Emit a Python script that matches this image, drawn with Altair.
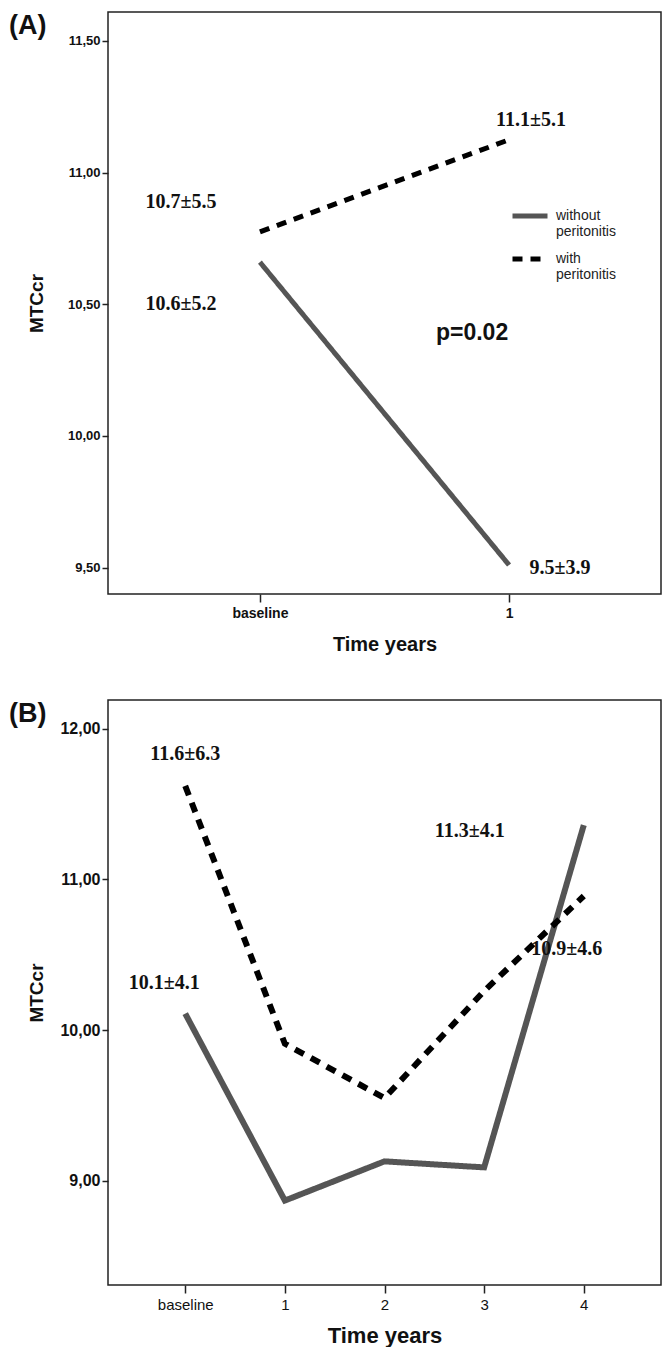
import altair as alt
import pandas as pd

# ---------------- data ----------------
series = ["without peritonitis", "with peritonitis"]

time_a = ["baseline", "1"]
without_a = [10.66, 9.51]
with_a = [10.775, 11.125]

time_b = ["baseline", "1", "2", "3", "4"]
without_b = [10.11, 8.87, 9.13, 9.09, 11.36]
with_b = [11.62, 9.91, 9.55, 10.26, 10.89]

ticks_a = [9.5, 10.0, 10.5, 11.0, 11.5]
ticks_b = [9.0, 10.0, 11.0, 12.0]

# annotation texts anchored at (time, value)
ann_a_text = ["10.7±5.5", "10.6±5.2", "11.1±5.1", "9.5±3.9"]
ann_a_time = ["baseline", "baseline", "1", "1"]
ann_a_val = [10.89, 10.50, 11.20, 9.50]

p_text = ["p=0.02"]
p_time = ["1"]
p_val = [10.39]

ann_b_text = ["11.6±6.3", "10.1±4.1", "11.3±4.1", "10.9±4.6"]
ann_b_time = ["baseline", "baseline", "4", "4"]
ann_b_val = [11.83, 10.31, 11.32, 10.54]

# ---------------- layout ----------------
W = 553
HA = 582
HB = 585
SANS = "Liberation Sans"
SERIF = "Liberation Serif"
DEC = "replace(format(datum.value, '.2f'), '.', ',')"


def line_df(times, wo, wi):
    return pd.DataFrame({
        "time": list(times) * 2,
        "value": list(wo) + list(wi),
        "group": [series[0]] * len(times) + [series[1]] * len(times),
    })


def text_df(texts, times, vals):
    return pd.DataFrame({"time": times, "value": vals, "label": texts})


def panel(times, wo, wi, ydom, yticks, H, pad, yfs, xfs, xweight, xtfs,
          gray, dash, sw, legend, anns, tag):
    xsc = alt.Scale(type="point", domain=times, padding=pad)
    ysc = alt.Scale(domain=ydom, nice=False, zero=False)
    x_enc = alt.X("time:N", scale=xsc, sort=times, axis=alt.Axis(
        labelAngle=0, tickSize=8, labelFontSize=xfs, labelFontWeight=xweight,
        labelPadding=4, title="Time years", titleFontSize=xtfs,
        titleFontWeight="bold", titleX=W / 2, titleY=50,
        titleBaseline="middle", titleAlign="center"))
    y_enc = alt.Y("value:Q", scale=ysc, axis=alt.Axis(
        values=yticks, labelExpr=DEC, tickSize=6, labelFontSize=yfs,
        labelFontWeight="bold", labelPadding=2, title="MTCcr",
        titleFontSize=19, titleFontWeight="bold", titleAngle=270,
        titleX=-72, titleY=H / 2, titleAlign="center", titleBaseline="middle"))

    lines = alt.Chart(line_df(times, wo, wi)).mark_line(
        strokeWidth=sw, strokeCap="butt").encode(
        x=x_enc, y=y_enc,
        color=alt.Color("group:N", scale=alt.Scale(domain=series, range=[gray, "#000000"]),
                        legend=legend),
        strokeDash=alt.StrokeDash("group:N", scale=alt.Scale(domain=series, range=[[1, 0], dash]),
                                  legend=legend),
    )
    layers = [lines]
    for (texts, tms, vals, dx, font, fs) in anns:
        layers.append(
            alt.Chart(text_df(texts, tms, vals)).mark_text(
                font=font, fontWeight="bold", fontSize=fs, dx=dx, color="#111111",
                baseline="middle", align="center").encode(
                x=x_enc, y=y_enc, text="label:N")
        )
    layers.append(
        alt.Chart(pd.DataFrame({"t": [tag]})).mark_text(
            font=SANS, fontWeight="bold", fontSize=27, align="left",
            baseline="middle", color="#111111").encode(
            text="t:N", x=alt.value(-99), y=alt.value(14))
    )
    return alt.layer(*layers).properties(width=W, height=H)


legend_a = alt.Legend(title=None, orient="none", legendX=402, legendY=184,
                      symbolType="stroke", symbolSize=1225, symbolStrokeWidth=5,
                      labelFont=SANS, labelFontSize=14, labelColor="#222222",
                      labelExpr="split(datum.label, ' ')", rowPadding=-5,
                      labelOffset=6, padding=0)
legend_b = alt.Legend(title=None, orient="none", legendX=368, legendY=47,
                      symbolType="stroke", symbolSize=1156, symbolStrokeWidth=5,
                      labelFont=SANS, labelFontSize=15, labelColor="#222222",
                      rowPadding=6, labelOffset=6, padding=0, labelLimit=300)

anns_a = [
    (ann_a_text[0:2], ann_a_time[0:2], ann_a_val[0:2], -79, SERIF, 20),
    (ann_a_text[2:3], ann_a_time[2:3], ann_a_val[2:3], 22, SERIF, 20),
    (ann_a_text[3:4], ann_a_time[3:4], ann_a_val[3:4], 51, SERIF, 20),
    (p_text, p_time, p_val, -37, SANS, 23),
]
anns_b = [
    (ann_b_text[0:1], ann_b_time[0:1], ann_b_val[0:1], 0, SERIF, 20),
    (ann_b_text[1:2], ann_b_time[1:2], ann_b_val[1:2], -21, SERIF, 20),
    (ann_b_text[2:3], ann_b_time[2:3], ann_b_val[2:3], -114, SERIF, 20),
    (ann_b_text[3:4], ann_b_time[3:4], ann_b_val[3:4], -17, SERIF, 20),
]

pa = panel(time_a, without_a, with_a, [9.40, 11.61], ticks_a, HA, 0.61,
           13, 14, "bold", 20, "#555555", [10, 8], 5, legend_a, anns_a, "(A)")
pb = panel(time_b, without_b, with_b, [8.31, 12.19], ticks_b, HB, 0.775,
           16, 15, "normal", 22, "#4d4d4d", [9, 8], 6, legend_b, anns_b, "(B)")

chart = alt.vconcat(pa, pb, spacing=44).properties(
    padding={"left": 0, "top": 3, "right": 0, "bottom": 0}
).configure_view(
    stroke="#222222", strokeWidth=1.5
).configure_axis(
    grid=False, domain=False, tickColor="#222222", tickWidth=1.5,
    labelColor="#111111", titleColor="#111111", labelFont=SANS, titleFont=SANS
)

chart.save("out.html", embed_options={"renderer": "svg", "actions": False})
